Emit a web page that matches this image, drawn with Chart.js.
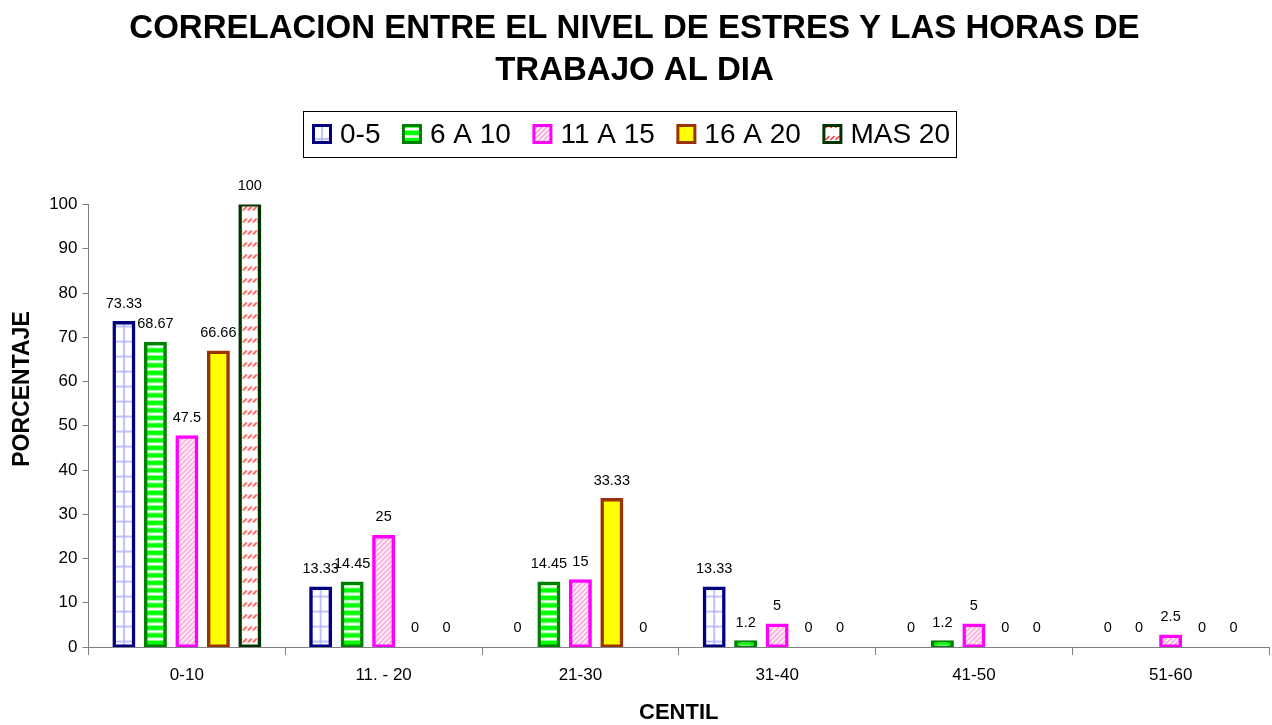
<!DOCTYPE html>
<html>
<head>
<meta charset="utf-8">
<title>Correlación entre el nivel de estrés y las horas de trabajo</title>
<script src="https://cdn.jsdelivr.net/npm/chart.js@4.4.1/dist/chart.umd.min.js"></script>
<style>
  html, body { margin: 0; padding: 0; background: #ffffff; }
  #wrap { width: 1272px; height: 725px; }
</style>
</head>
<body>
<div id="wrap"><canvas id="chart" width="1272" height="725"></canvas></div>
<script>
// Categories (stress percentile bands) and series (hours worked per day)
const categories = ['0-10', '11. - 20', '21-30', '31-40', '41-50', '51-60'];
const seriesNames = ['0-5', '6 A 10', '11 A 15', '16 A 20', 'MAS 20'];

const horas0a5   = [73.33, 13.33, 0,     13.33, 0,   0];
const horas6a10  = [68.67, 14.45, 14.45, 1.2,   1.2, 0];
const horas11a15 = [47.5,  25,    15,    5,     5,   2.5];
const horas16a20 = [66.66, 0,     33.33, 0,     0,   0];
const horasMas20 = [100,   0,     0,     0,     0,   0];

const yTicks = [0, 10, 20, 30, 40, 50, 60, 70, 80, 90, 100];

const titleLines = ['CORRELACION ENTRE EL NIVEL DE ESTRES Y LAS HORAS DE', 'TRABAJO AL DIA'];
const xTitle = 'CENTIL';
const yTitle = 'PORCENTAJE';

const FONT = '"Liberation Sans", Arial, Helvetica, sans-serif';

// ---- fill tiles -----------------------------------------------------------
function makeTile(w, h, paint) {
  const c = document.createElement('canvas');
  c.width = w; c.height = h;
  const g = c.getContext('2d');
  paint(g, w, h);
  return c;
}

// light blue grid on white; vertical line in the middle of the tile
const tileGrid = makeTile(16, 15, (g, w, h) => {
  g.fillStyle = '#ffffff'; g.fillRect(0, 0, w, h);
  g.fillStyle = '#b0b0ff';
  g.fillRect(7.25, 0, 1.5, h);
  g.fillRect(0, 9.25, w, 1.5);
});

// bright green with white horizontal bands
const tileStripes = makeTile(4, 15, (g, w, h) => {
  g.fillStyle = '#00ff00'; g.fillRect(0, 0, w, h);
  g.fillStyle = '#ffffff';
  g.fillRect(0, 6.2, w, 2.8);
  g.fillRect(0, 13.7, w, 1.3);
  g.fillRect(0, 0, w, 1.5);
});

// pale pink upward diagonal hatch
const tileHatch = makeTile(5, 5, (g, w, h) => {
  g.fillStyle = '#ffffff'; g.fillRect(0, 0, w, h);
  g.strokeStyle = '#ff9fd6'; g.lineWidth = 1.6;
  g.beginPath();
  g.moveTo(-1, 6); g.lineTo(6, -1);
  g.moveTo(-1, 1); g.lineTo(1, -1);
  g.moveTo(4, 6); g.lineTo(6, 4);
  g.stroke();
});

// solid yellow
const tileSolid = makeTile(4, 4, (g, w, h) => {
  g.fillStyle = '#ffff00'; g.fillRect(0, 0, w, h);
});

// short red dashes along upward diagonals on white
const tileDashes = makeTile(5, 12, (g, w, h) => {
  g.fillStyle = '#ffffff'; g.fillRect(0, 0, w, h);
  g.strokeStyle = '#ff3030'; g.lineWidth = 1.6; g.lineCap = 'round';
  g.beginPath();
  g.moveTo(1, 7.5); g.lineTo(4, 4.5);
  g.stroke();
});

const seriesValues = [horas0a5, horas6a10, horas11a15, horas16a20, horasMas20];
const seriesTiles = [tileGrid, tileStripes, tileHatch, tileSolid, tileDashes];
const seriesBorders = ['#000080', '#008000', '#ff00ff', '#993300', '#003300'];

const canvas = document.getElementById('chart');
const ctx = canvas.getContext('2d');

const datasets = seriesNames.map((name, i) => ({
  label: name,
  data: seriesValues[i],
  backgroundColor: ctx.createPattern(seriesTiles[i], 'repeat'),
  borderColor: seriesBorders[i],
  borderWidth: 3.5,
  borderSkipped: false,
  inflateAmount: 1.5,
  tile: seriesTiles[i]
}));

// Anchor each bar's fill pattern to the bar itself (centre / base)
const barFillPlugin = {
  id: 'barFill',
  beforeDatasetsDraw(chart) {
    const c = chart.ctx;
    chart.data.datasets.forEach((ds, d) => {
      const meta = chart.getDatasetMeta(d);
      meta.data.forEach(el => {
        const p = c.createPattern(ds.tile, 'repeat');
        const ox = el.x - ds.tile.width / 2;
        const oy = el.base;
        p.setTransform(new DOMMatrix().translate(ox, oy));
        el.options = Object.assign({}, el.options, { backgroundColor: p });
      });
    });
  }
};

// Value printed above every bar
const valueLabelPlugin = {
  id: 'valueLabels',
  afterDatasetsDraw(chart) {
    const c = chart.ctx;
    c.save();
    c.font = '14.5px ' + FONT;
    c.fillStyle = '#000000';
    c.textAlign = 'center';
    c.textBaseline = 'middle';
    chart.data.datasets.forEach((ds, d) => {
      const meta = chart.getDatasetMeta(d);
      meta.data.forEach((el, i) => {
        c.fillText(String(ds.data[i]), el.x, el.y - 19);
      });
    });
    c.restore();
  }
};

// Framed legend row under the title
const legendPlugin = {
  id: 'framedLegend',
  afterDraw(chart) {
    const c = chart.ctx;
    const fontSize = 28;
    const box = 20, boxGap = 8, itemGap = 21.5;
    const startX = 312, midY = 134;
    c.save();
    c.font = fontSize + 'px ' + FONT;
    c.textBaseline = 'middle';
    c.textAlign = 'left';
    let x = startX;
    chart.data.datasets.forEach((ds, i) => {
      const bx = x, by = midY - box / 2;
      const p = c.createPattern(ds.tile, 'repeat');
      p.setTransform(new DOMMatrix().translate(bx + box / 2 - ds.tile.width / 2, by + box));
      c.fillStyle = ds.borderColor;
      c.fillRect(bx, by, box, box);
      c.fillStyle = p;
      c.fillRect(bx + 3, by + 3, box - 6, box - 6);
      c.fillStyle = '#000000';
      const tx = bx + box + boxGap;
      c.fillText(ds.label, tx, midY + 1);
      x = tx + c.measureText(ds.label).width + (i < chart.data.datasets.length - 1 ? itemGap : 0);
    });
    const left = 303.5, top = 111.5;
    const width = Math.round(x + 6) + 0.5 - left, height = 46;
    c.strokeStyle = '#000000';
    c.lineWidth = 1;
    c.strokeRect(left, top, width, height);
    c.restore();
  }
};

// Vertical axis caption
const yTitlePlugin = {
  id: 'yCaption',
  afterDraw(chart) {
    const c = chart.ctx;
    c.save();
    c.translate(23, 389);
    c.rotate(-Math.PI / 2);
    c.font = 'bold 23px ' + FONT;
    c.fillStyle = '#000000';
    c.textAlign = 'center';
    c.textBaseline = 'middle';
    c.fillText(yTitle, 0, 0);
    c.restore();
  }
};

new Chart(ctx, {
  type: 'bar',
  data: { labels: categories, datasets },
  options: {
    responsive: false,
    animation: false,
    devicePixelRatio: 1,
    events: [],
    layout: { padding: { left: 0, right: 3, top: 0, bottom: 0 } },
    datasets: { bar: { categoryPercentage: 0.8, barPercentage: 0.635 } },
    plugins: {
      legend: { display: false },
      tooltip: { enabled: false },
      title: {
        display: true,
        text: titleLines,
        color: '#000000',
        font: { family: FONT, size: 33, weight: 'bold', lineHeight: 42 / 33 },
        padding: { top: 8, bottom: 112.5 }
      }
    },
    scales: {
      x: {
        z: 1,
        grid: { offset: true, drawOnChartArea: false, tickLength: 8, color: '#808080', tickColor: '#808080' },
        border: { color: '#808080', width: 1 },
        ticks: { color: '#000000', font: { family: FONT, size: 17 }, padding: 10, maxRotation: 0, autoSkip: false },
        title: { display: true, text: xTitle, color: '#000000', font: { family: FONT, size: 22, weight: 'bold', lineHeight: 1.1 }, padding: { top: 0, bottom: 0 } },
        afterFit(scale) { scale.height = 78; }
      },
      y: {
        min: 0,
        max: 100,
        afterBuildTicks(scale) { scale.ticks = yTicks.map(v => ({ value: v })); },
        grid: { drawOnChartArea: false, tickLength: 6, color: '#808080', tickColor: '#808080' },
        border: { color: '#808080', width: 1 },
        ticks: { color: '#000000', font: { family: FONT, size: 17 }, padding: 5 },
        afterFit(scale) { scale.width = 88.5; }
      }
    }
  },
  plugins: [barFillPlugin, valueLabelPlugin, legendPlugin, yTitlePlugin]
});
</script>
</body>
</html>
